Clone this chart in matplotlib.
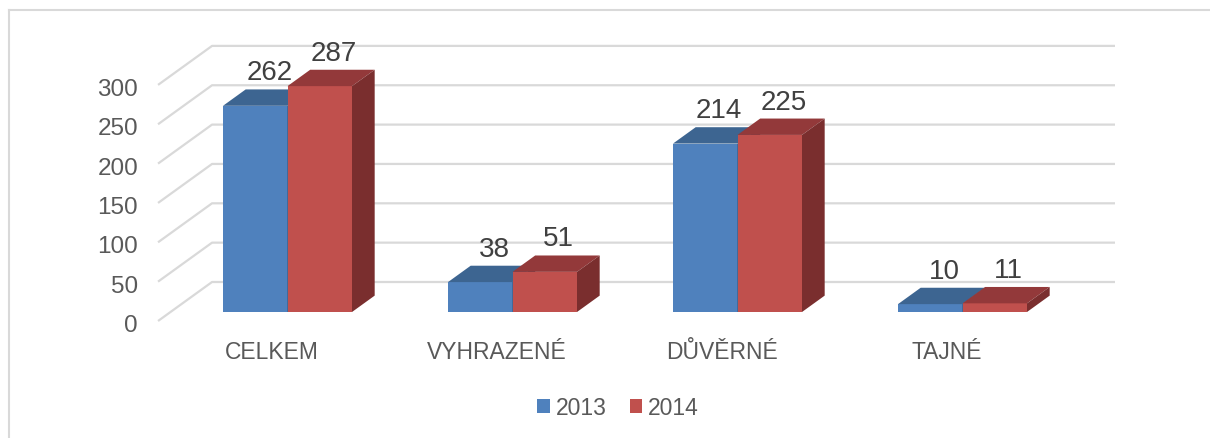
import matplotlib.pyplot as plt
from matplotlib.patches import Polygon, Patch
from matplotlib.lines import Line2D

categories = ["CELKEM", "VYHRAZENÉ", "DŮVĚRNÉ", "TAJNÉ"]
years = ["2013", "2014"]
values_2013 = [262, 38, 214, 10]
values_2014 = [287, 51, 225, 11]
y_ticks = [0, 50, 100, 150, 200, 250, 300]

plt.rcParams['font.family'] = ['Liberation Sans', 'DejaVu Sans']

# colours: front, top, side
blue = ("#4F81BD", "#3D6591", "#33547A")
red = ("#C0504D", "#93393A", "#7A2E2E")
grid_col = "#D9D9D9"

W, H = 1210, 439
fig = plt.figure(figsize=(W / 100, H / 100), dpi=100)
ax = fig.add_axes([0, 0, 1, 1])
ax.set_axis_off()

# axis scaling: 1 category = 225 px, 1 value unit = 0.787 px
px_cat, px_val = 225.0, 0.787
x0_px, y0_px = 287.5, 313.0
ax.set_xlim(-x0_px / px_cat, (W - x0_px) / px_cat)
ax.set_ylim((y0_px - H) / px_val, y0_px / px_val)

# oblique depth vector (whole depth of the plot box)
DX, DY = 54 / px_cat, 39 / px_val
t_front, t_back, t_bar = -9 / 39, 30 / 39, 0.42
bw = 64.5 / px_cat
x_left = -117 / px_cat
x_right = (1115 - x0_px) / px_cat

# back wall + side wall gridlines
for v in y_ticks:
    xs = [x_left + t_front * DX, x_left + t_back * DX, x_right]
    ys = [v + t_front * DY, v + t_back * DY, v + t_back * DY]
    ax.plot(xs, ys, color=grid_col, lw=1.6, zorder=1, solid_capstyle='butt')
    ax.annotate(str(v), (x_left + t_front * DX, v + t_front * DY),
                xytext=(-20, -4), textcoords='offset pixels',
                ha='right', va='center', fontsize=17.5, color='#595959')


def bar3d(xl, val, cols):
    ax.bar(xl, val, width=bw, align='edge', color=cols[0], lw=0, zorder=3)
    dx, dy = t_bar * DX, t_bar * DY
    top = [(xl, val), (xl + bw, val), (xl + bw + dx, val + dy), (xl + dx, val + dy)]
    side = [(xl + bw, 0), (xl + bw + dx, dy), (xl + bw + dx, val + dy), (xl + bw, val)]
    ax.add_patch(Polygon(top, closed=True, fc=cols[1], lw=0, zorder=3))
    ax.add_patch(Polygon(side, closed=True, fc=cols[2], lw=0, zorder=3))
    ax.annotate(str(val), (xl + bw / 2, val + dy), xytext=(14, 17),
                textcoords='offset pixels', ha='center', va='center',
                fontsize=20, color='#404040', zorder=5)


for i, cat in enumerate(categories):
    bar3d(i - bw, values_2013[i], blue)
    bar3d(i, values_2014[i], red)
    ax.annotate(cat, (i + t_front * DX, t_front * DY), xytext=(-3, -31),
                textcoords='offset pixels', ha='center', va='center',
                fontsize=16.5, color='#595959')

# chart frame
fig.add_artist(Line2D([8.5 / W, 8.5 / W], [0, 1 - 11 / H], transform=fig.transFigure,
                      color=grid_col, lw=1.5))
fig.add_artist(Line2D([8.5 / W, 1], [1 - 11 / H, 1 - 11 / H], transform=fig.transFigure,
                      color=grid_col, lw=1.5))

handles = [Patch(fc=blue[0], label=years[0]), Patch(fc=red[0], label=years[1])]
fig.legend(handles=handles, loc='center', bbox_to_anchor=(618 / W, 1 - 409 / H),
           ncol=2, frameon=False, fontsize=16.5, handlelength=0.55, handleheight=0.55,
           handletextpad=0.25, columnspacing=1.0, labelcolor='#595959')

fig.savefig("out.png", dpi=100)
